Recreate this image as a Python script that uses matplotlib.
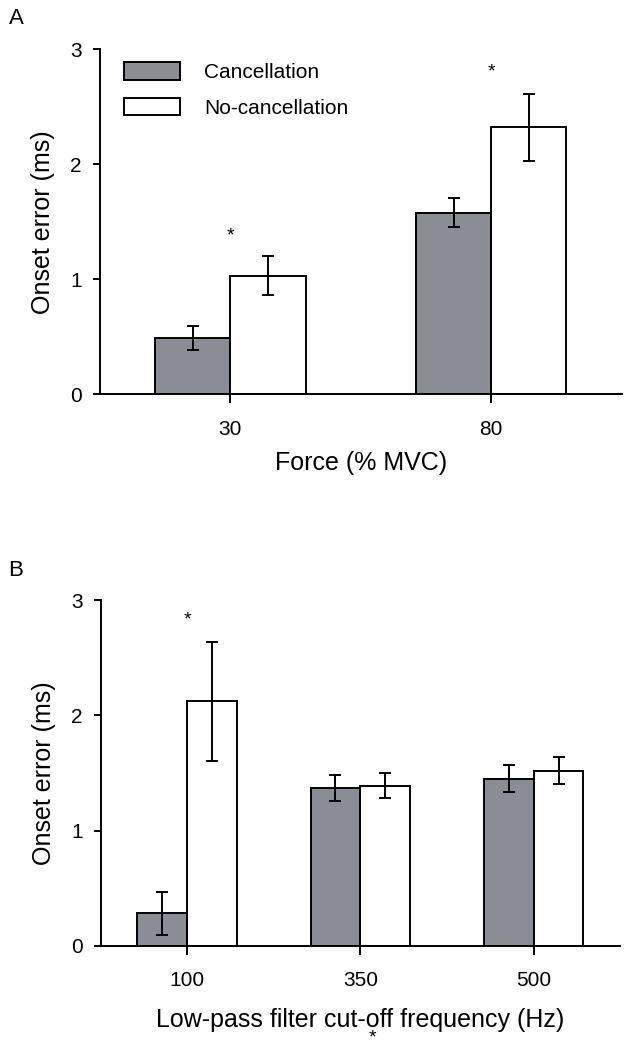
import numpy as np
import matplotlib
matplotlib.use('Agg')
import matplotlib.pyplot as plt
from matplotlib.patches import Patch

plt.rcParams['font.family'] = ['Liberation Sans', 'DejaVu Sans']

# Panel A: onset error vs force
force_labels = ['30', '80']
canc_a = [0.49, 1.58]
canc_a_err = [0.105, 0.124]
nocanc_a = [1.03, 2.32]
nocanc_a_err = [0.17, 0.29]
stars_a = [(0, 1.376), (1, 2.80)]

# Panel B: onset error vs low-pass cut-off
freq_labels = ['100', '350', '500']
canc_b = [0.28, 1.37, 1.45]
canc_b_err = [0.19, 0.11, 0.116]
nocanc_b = [2.12, 1.39, 1.52]
nocanc_b_err = [0.515, 0.11, 0.12]
stars_b = [(0, 2.825)]

GRAY = '#8b8d95'
LW = 1.4
W = 0.288


def draw_panel(ax, labels, canc, canc_err, nocanc, nocanc_err, stars, xlabel, xlabelpad):
    x = np.arange(len(labels))
    ax.bar(x - W / 2, canc, W, color=GRAY, edgecolor='black', linewidth=LW,
           label='Cancellation', zorder=2)
    ax.bar(x + W / 2, nocanc, W, color='white', edgecolor='black', linewidth=LW,
           label='No-cancellation', zorder=2)
    ax.errorbar(x - W / 2, canc, yerr=canc_err, fmt='none', ecolor='black',
                elinewidth=LW, capsize=4.3, capthick=LW, zorder=3)
    ax.errorbar(x + W / 2, nocanc, yerr=nocanc_err, fmt='none', ecolor='black',
                elinewidth=LW, capsize=4.3, capthick=LW, zorder=3)
    for sx, sy in stars:
        ax.text(sx, sy, '*', ha='center', va='center', fontsize=14)
    ax.set_xlim(-0.5, len(labels) - 0.5)
    ax.set_ylim(0, 3)
    ax.set_xticks(x)
    ax.set_xticklabels(labels)
    ax.set_yticks([0, 1, 2, 3])
    ax.spines['top'].set_visible(False)
    ax.spines['right'].set_visible(False)
    ax.spines['left'].set_linewidth(LW)
    ax.spines['bottom'].set_linewidth(LW)
    ax.tick_params(axis='x', direction='out', length=6.5, width=LW, pad=12, labelsize=15)
    ax.tick_params(axis='y', direction='out', length=5, width=LW, pad=8, labelsize=15)
    ax.set_ylabel('Onset error (ms)', fontsize=18, labelpad=11)
    ax.set_xlabel(xlabel, fontsize=18, labelpad=xlabelpad)


fig = plt.figure(figsize=(6.32, 10.5), dpi=100)
ax1 = fig.add_axes([0.1582, 0.6245, 0.8255, 0.3286])
ax2 = fig.add_axes([0.1593, 0.0993, 0.8220, 0.3292])

draw_panel(ax1, force_labels, canc_a, canc_a_err, nocanc_a, nocanc_a_err, stars_a,
           'Force (% MVC)', 9)
draw_panel(ax2, freq_labels, canc_b, canc_b_err, nocanc_b, nocanc_b_err, stars_b,
           'Low-pass filter cut-off frequency (Hz)', 13)

handles = [Patch(facecolor=GRAY, edgecolor='black', linewidth=LW),
           Patch(facecolor='white', edgecolor='black', linewidth=LW)]
ax1.legend(handles, ['Cancellation', 'No-cancellation'], loc='upper left',
           bbox_to_anchor=(0.046, 0.963), frameon=False, fontsize=15,
           handlelength=2.7, handleheight=0.92, handletextpad=1.15,
           labelspacing=0.75, borderpad=0, borderaxespad=0)

fig.text(16 / 632, 1 - 18 / 1050, 'A', ha='center', va='center', fontsize=16)
fig.text(16 / 632, 1 - 570 / 1050, 'B', ha='center', va='center', fontsize=16)
fig.text(372.7 / 632, 1 - 1037.7 / 1050, '*', ha='center', va='center', fontsize=14)

fig.savefig('out.png', dpi=100)
